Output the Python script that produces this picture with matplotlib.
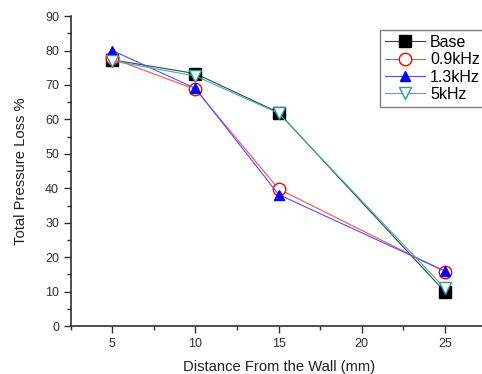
import matplotlib
matplotlib.use("Agg")
import matplotlib.pyplot as plt
from matplotlib.ticker import MultipleLocator

plt.rcParams['font.family'] = ['Liberation Sans', 'DejaVu Sans']

distance = [5, 10, 15, 25]
base = [77.3, 73.3, 62.0, 10.0]
khz09 = [77.7, 68.7, 39.8, 15.8]
khz13 = [80.0, 69.0, 38.2, 16.0]
khz5 = [77.0, 72.6, 61.8, 11.0]

fig = plt.figure(figsize=(4.82, 3.74), dpi=100)
ax = fig.add_axes([0.147, 0.128, 0.862, 0.829])

lw = 0.8
ax.plot(distance, base, color='#404040', lw=lw, marker='s', ms=8, mfc='black', mec='black', label='Base', zorder=3)
ax.plot(distance, khz09, color='#ff5050', lw=lw, marker='o', ms=9, mfc='white', mec='red', mew=1.0, label='0.9kHz', zorder=3)
ax.plot(distance, khz13, color='#5050ff', lw=lw, marker='^', ms=7, mfc='blue', mec='blue', label='1.3kHz', zorder=4)
ax.plot(distance, khz5, color='#40b0b0', lw=lw, marker='v', ms=8, mfc='white', mec='#2a9a9a', mew=1.0, label='5kHz', zorder=5)

ax.set_xlim(2.5, 27.5)
ax.set_ylim(0, 90)
ax.xaxis.set_major_locator(MultipleLocator(5))
ax.xaxis.set_minor_locator(MultipleLocator(2.5))
ax.yaxis.set_major_locator(MultipleLocator(10))
ax.yaxis.set_minor_locator(MultipleLocator(5))
ax.spines['top'].set_visible(False)
ax.spines['right'].set_visible(False)
ax.spines['left'].set_linewidth(1.2)
ax.spines['bottom'].set_linewidth(1.2)
ax.spines['left'].set_color('#303030')
ax.spines['bottom'].set_color('#303030')
ax.tick_params(which='major', direction='out', length=5, width=1, labelsize=9, colors='#303030')
ax.tick_params(which='minor', direction='out', length=3, width=1, colors='#303030')

ax.set_xlabel('Distance From the Wall (mm)', fontsize=10.6, color='#202020', labelpad=7)
ax.set_ylabel('Total Pressure Loss %', fontsize=10.6, color='#202020', labelpad=12)

leg = ax.legend(loc='upper left', bbox_to_anchor=(0.745, 0.955), fontsize=11.5, frameon=True, fancybox=False,
                edgecolor='#606060', handlelength=2.5, borderpad=0.3, labelspacing=0.15, handletextpad=0.3,
                borderaxespad=0)
leg.get_frame().set_linewidth(1.0)

fig.savefig('out.png', dpi=100)
